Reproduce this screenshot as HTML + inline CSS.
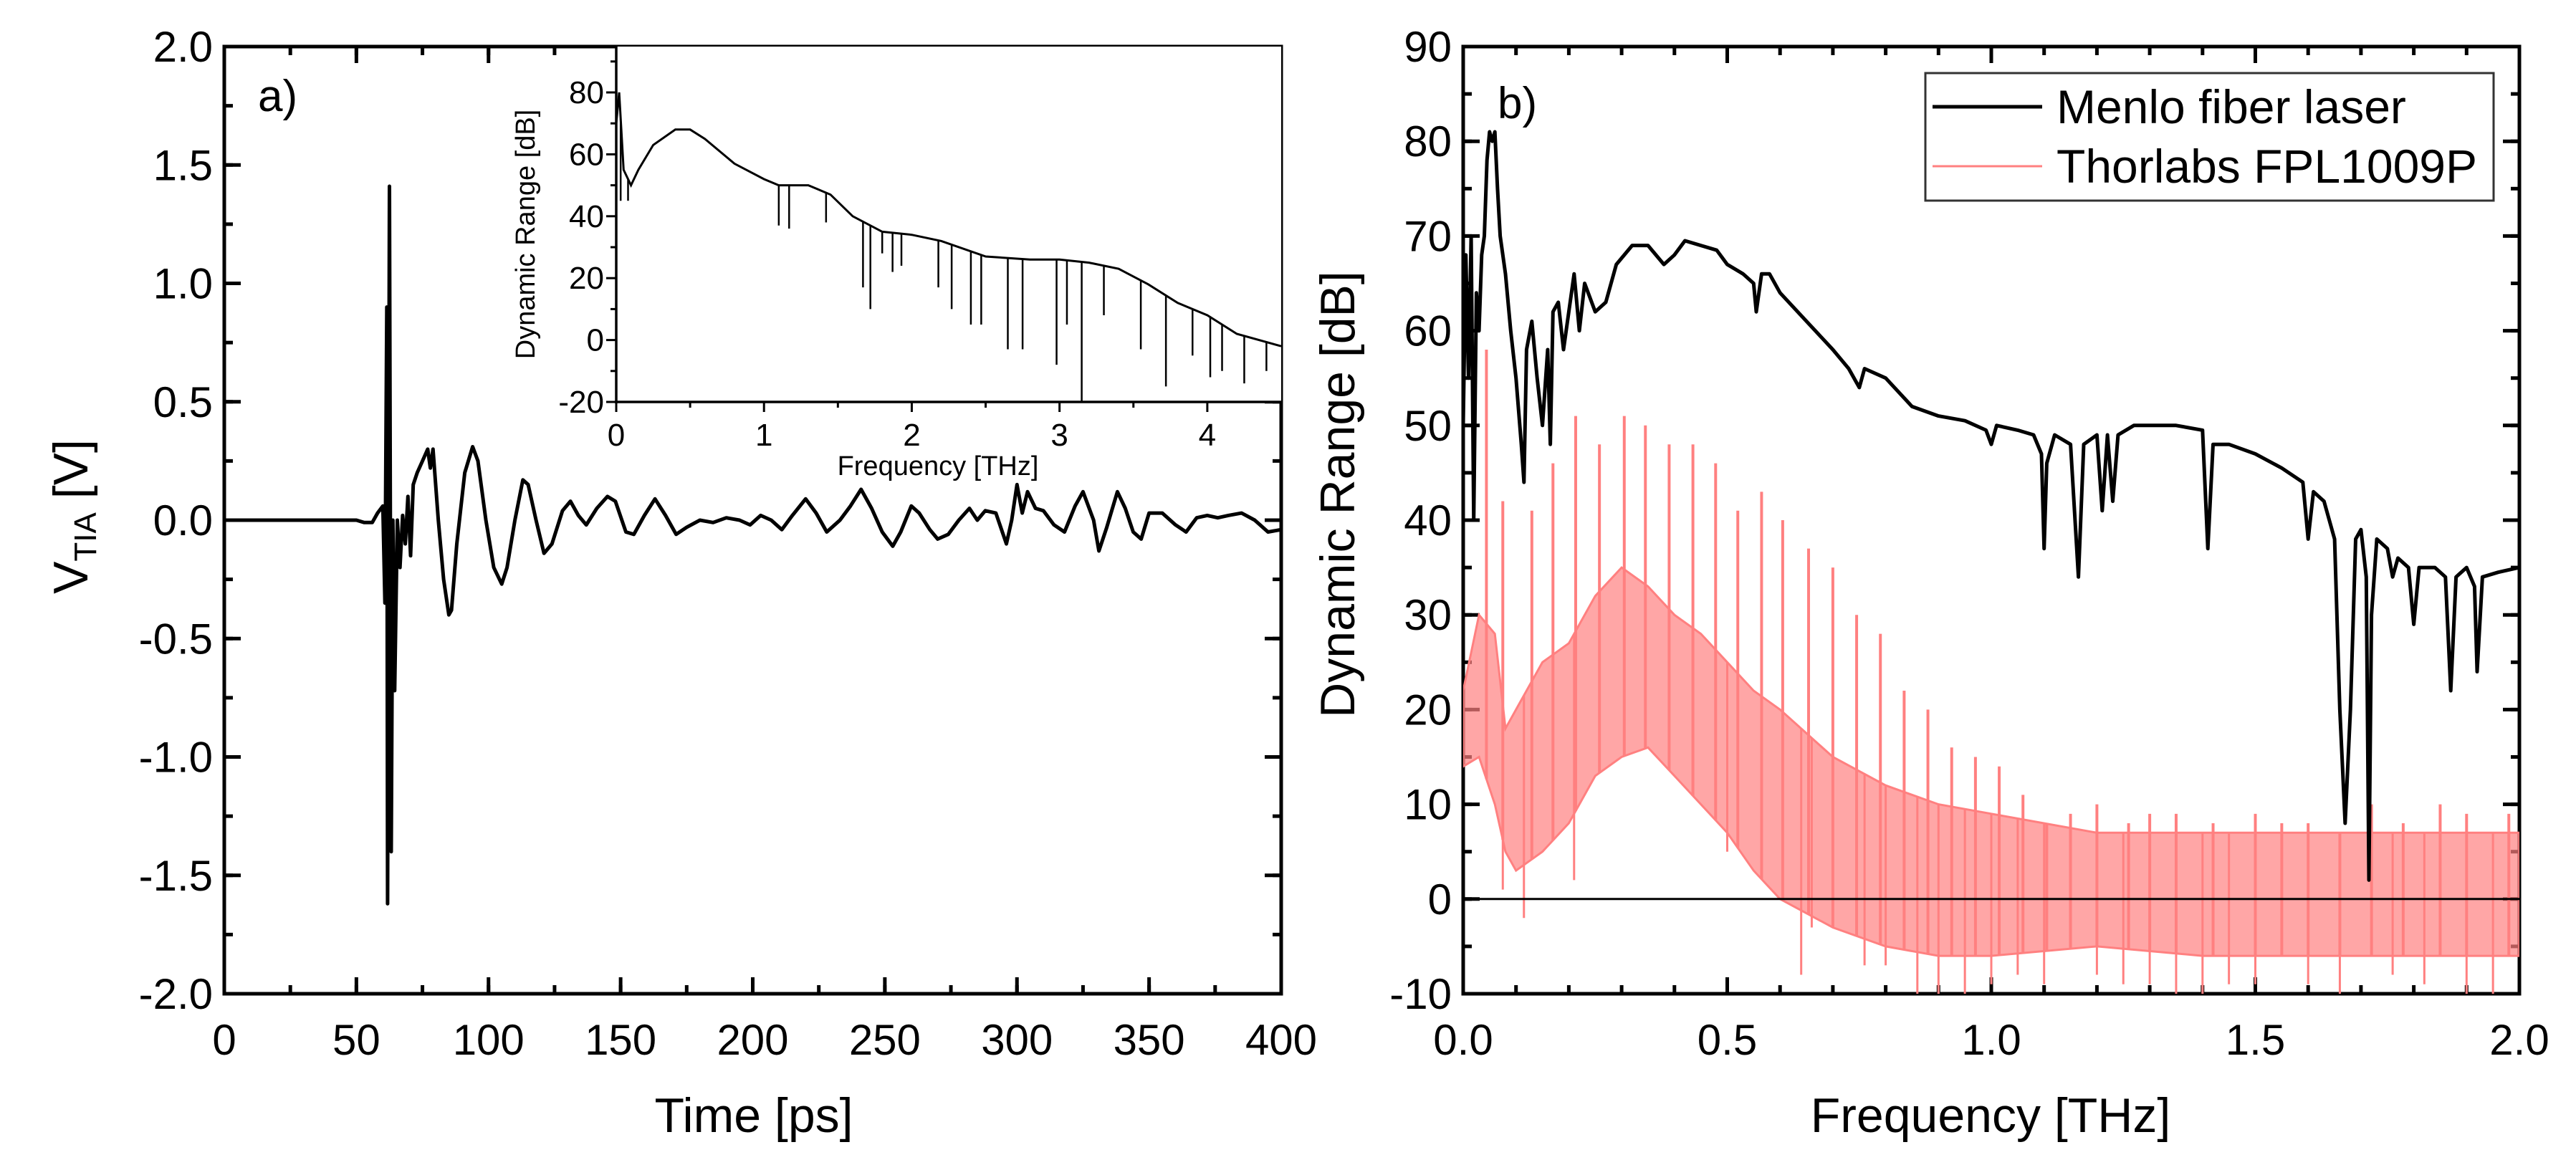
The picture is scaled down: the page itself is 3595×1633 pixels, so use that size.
<!DOCTYPE html>
<html><head><meta charset="utf-8"><style>
html,body{margin:0;padding:0;background:#fff;}
svg{display:block;font-family:"Liberation Sans",Arial,sans-serif;}
</style></head><body>
<svg id="fig" width="3595" height="1633" viewBox="0 0 3595 1633" xmlns="http://www.w3.org/2000/svg">
<defs>
<clipPath id="clipA"><rect x="313" y="65" width="1475" height="1322"/></clipPath>
<clipPath id="clipB"><rect x="2042" y="65" width="1474" height="1322"/></clipPath>
<clipPath id="clipI"><rect x="860" y="65" width="928" height="496"/></clipPath>
</defs>
<g id="gA"></g>
<g id="gB"></g>
</svg>
<script>
// ---------- Panel a data ----------
const timePs = [0,50,53,56,58,60,60.8,61.5,61.8,62.5,63.2,63.8,64.5,65.5,66.5,67.5,68.5,69.5,70.5,71.5,73,75,77,78,79,81,83,85,86,88,91,94,96,99,102,105,107,110,113,115,118,121,124,128,131,134,137,141,145,148,152,155,159,163,167,171,175,180,185,190,195,199,203,207,211,215,220,224,228,233,237,241,245,249,253,256,260,263,267,270,274,278,282,285,288,292,296,298,300,302,304,307,310,314,318,322,325,329,331,334,338,341,344,347,350,355,360,364,368,372,376,380,385,390,395,400];
const voltV = [0,0,-0.01,-0.01,0.03,0.06,-0.35,0.9,-1.62,1.41,-1.4,0.0,-0.72,0.0,-0.2,0.02,-0.1,0.1,-0.15,0.15,0.2,0.25,0.3,0.22,0.3,0.0,-0.25,-0.4,-0.38,-0.1,0.2,0.31,0.25,0.0,-0.2,-0.27,-0.2,0.0,0.17,0.15,0.0,-0.14,-0.1,0.04,0.08,0.02,-0.02,0.05,0.1,0.08,-0.05,-0.06,0.02,0.09,0.02,-0.06,-0.03,0.0,-0.01,0.01,0.0,-0.02,0.02,0.0,-0.04,0.02,0.09,0.03,-0.05,0.0,0.06,0.13,0.05,-0.05,-0.11,-0.05,0.06,0.03,-0.04,-0.08,-0.06,0.0,0.05,0.0,0.04,0.03,-0.1,0.0,0.15,0.03,0.12,0.05,0.04,-0.02,-0.05,0.06,0.12,0.0,-0.13,-0.03,0.12,0.05,-0.05,-0.08,0.03,0.03,-0.02,-0.05,0.01,0.02,0.01,0.02,0.03,0.0,-0.05,-0.04];
const aXTicks = [0,50,100,150,200,250,300,350,400];
const aYTicks = [2.0,1.5,1.0,0.5,0.0,-0.5,-1.0,-1.5,-2.0];
// inset
const insetEnvF = [0,0.02,0.05,0.1,0.15,0.25,0.4,0.5,0.6,0.8,1.0,1.1,1.3,1.45,1.6,1.8,2.0,2.2,2.5,2.8,3.0,3.2,3.4,3.6,3.8,4.0,4.2,4.5];
const insetEnvDb = [70,80,55,50,55,63,68,68,65,57,52,50,50,47,40,35,34,32,27,26,26,25,23,18,12,8,2,-2];
const insetDipF = [0.03,0.08,1.1,1.17,1.42,1.67,1.72,1.8,1.87,1.93,2.18,2.27,2.4,2.47,2.65,2.75,2.98,3.05,3.15,3.3,3.55,3.72,3.9,4.02,4.1,4.25,4.4];
const insetDipDb = [45,45,37,36,38,17,10,28,22,24,17,10,5,5,-3,-3,-8,5,-20,8,-3,-15,-5,-12,-10,-14,-10];
const iXTicks = [0,1,2,3,4];
const iYTicks = [80,60,40,20,0,-20];
// ---------- Panel b data ----------
const menloF = [0,0.005,0.01,0.015,0.02,0.025,0.03,0.035,0.04,0.045,0.05,0.055,0.06,0.065,0.07,0.08,0.09,0.1,0.11,0.115,0.12,0.13,0.14,0.15,0.16,0.165,0.17,0.18,0.19,0.2,0.21,0.22,0.23,0.25,0.27,0.29,0.32,0.35,0.38,0.4,0.42,0.45,0.48,0.5,0.53,0.55,0.555,0.565,0.58,0.6,0.65,0.7,0.73,0.75,0.76,0.8,0.85,0.9,0.95,0.99,1.0,1.01,1.05,1.08,1.095,1.1,1.105,1.12,1.15,1.165,1.175,1.2,1.21,1.22,1.23,1.24,1.27,1.35,1.4,1.41,1.42,1.45,1.5,1.55,1.59,1.6,1.61,1.63,1.65,1.66,1.67,1.68,1.69,1.7,1.71,1.715,1.72,1.73,1.75,1.76,1.77,1.79,1.8,1.81,1.84,1.86,1.87,1.88,1.9,1.915,1.92,1.93,1.96,2.0];
const menloDb = [50,68,55,70,40,64,60,68,70,78,81,80,81,75,70,66,60,55,48,44,58,61,55,50,58,48,62,63,58,62,66,60,65,62,63,67,69,69,67,68,69.5,69,68.5,67,66,65,62,66,66,64,61,58,56,54,56,55,52,51,50.5,49.5,48,50,49.5,49,47,37,46,49,48,34,48,49,41,49,42,49,50,50,49.5,37,48,48,47,45.5,44,38,43,42,38,20,8,20,38,39,34,2,30,38,37,34,36,35,29,35,35,34,22,34,35,33,24,34,34.5,35];
const thorBandF = [0,0.03,0.06,0.08,0.1,0.15,0.2,0.25,0.3,0.35,0.4,0.45,0.5,0.55,0.6,0.7,0.8,0.9,1.0,1.2,1.4,1.6,1.8,2.0];
const thorBandHi = [22,30,28,18,20,25,27,32,35,33,30,28,25,22,20,15,12,10,9,7,7,7,7,7];
const thorBandLo = [14,15,10,5,3,5,8,13,15,16,13,10,7,3,0,-3,-5,-6,-6,-5,-6,-6,-6,-6];
const thorPeakF = [0.044,0.075,0.13,0.17,0.213,0.258,0.305,0.345,0.39,0.435,0.478,0.52,0.565,0.605,0.654,0.7,0.745,0.79,0.835,0.88,0.925,0.97,1.015,1.06,1.105,1.15,1.2,1.26,1.3,1.35,1.42,1.5,1.55,1.6,1.66,1.72,1.78,1.85,1.9,1.98];
const thorPeakDb = [58,42,41,46,51,48,51,50,48,48,46,41,43,40,37,35,30,28,22,20,16,15,14,11,8,9,10,8,9,9,8,9,8,8,7,10,8,10,9,9];
const thorDipF = [0.075,0.115,0.21,0.5,0.64,0.66,0.76,0.8,0.86,0.9,0.95,1.0,1.05,1.1,1.2,1.25,1.3,1.35,1.4,1.45,1.5,1.6,1.66,1.76,1.82,1.9,1.95];
const thorDipDb = [1,-2,2,5,-8,-3,-7,-7,-10,-10,-10,-9,-8,-9,-8,-9,-9,-10,-10,-9,-9,-9,-10,-8,-9,-10,-10];
const bXTicks = [0.0,0.5,1.0,1.5,2.0];
const bYTicks = [90,80,70,60,50,40,30,20,10,0,-10];

const NS = "http://www.w3.org/2000/svg";
function mk(parent, tag, attrs, text) {
  const e = document.createElementNS(NS, tag);
  for (const k in attrs) e.setAttribute(k, attrs[k]);
  if (text !== undefined) e.textContent = text;
  parent.appendChild(e);
  return e;
}
function lin(d0, d1, r0, r1) { return v => r0 + (v - d0) * (r1 - r0) / (d1 - d0); }
function interp(xs, ys, x) {
  for (let i = 0; i < xs.length - 1; i++) if (x >= xs[i] && x <= xs[i+1]) return ys[i] + (ys[i+1]-ys[i])*(x-xs[i])/(xs[i+1]-xs[i]);
  return ys[ys.length-1];
}
function pathOf(xs, ys, sx, sy) { return xs.map((x,i)=>(i?'L':'M')+sx(x).toFixed(1)+','+sy(ys[i]).toFixed(1)).join(''); }

function frame(g, x0, x1, y0, y1, xt, yt, xMinorStep, yMinorStep, xFmt, yFmt, xv0, xv1, yv0, yv1, prefix) {
  const sx = lin(xv0, xv1, x0, x1), sy = lin(yv0, yv1, y1, y0);
  for (let v = xv0; v <= xv1 + 1e-9; v += xMinorStep) {
    const x = sx(v);
    mk(g,'line',{x1:x,y1:y1,x2:x,y2:y1-12,stroke:'#000','stroke-width':5});
    mk(g,'line',{x1:x,y1:y0,x2:x,y2:y0+12,stroke:'#000','stroke-width':5});
  }
  for (let v = yv0; v <= yv1 + 1e-9; v += yMinorStep) {
    const y = sy(v);
    mk(g,'line',{x1:x0,y1:y,x2:x0+12,y2:y,stroke:'#000','stroke-width':5});
    mk(g,'line',{x1:x1,y1:y,x2:x1-12,y2:y,stroke:'#000','stroke-width':5});
  }
  xt.forEach(v => {
    const x = sx(v);
    mk(g,'line',{x1:x,y1:y1,x2:x,y2:y1-23,stroke:'#000','stroke-width':5});
    mk(g,'line',{x1:x,y1:y0,x2:x,y2:y0+23,stroke:'#000','stroke-width':5});
    const t = mk(g,'text',{x:x,y:y1+85,'font-size':60,'text-anchor':'middle',fill:'#000'}, xFmt(v));
    
    
  });
  yt.forEach(v => {
    const y = sy(v);
    mk(g,'line',{x1:x0,y1:y,x2:x0+23,y2:y,stroke:'#000','stroke-width':5});
    mk(g,'line',{x1:x1,y1:y,x2:x1-23,y2:y,stroke:'#000','stroke-width':5});
    const t = mk(g,'text',{x:x0-16,y:y+21,'font-size':60,'text-anchor':'end',fill:'#000'}, yFmt(v));
    
    
  });
  const r = mk(g,'rect',{x:x0,y:y0,width:x1-x0,height:y1-y0,fill:'none',stroke:'#000','stroke-width':5});
  
  
  return {sx, sy};
}

// ---------- Panel A ----------
const gA = document.getElementById('gA');
const A = frame(gA, 313, 1788, 65, 1387, aXTicks, aYTicks, 25, 0.25, v=>String(v), v=>v.toFixed(1), 0, 400, -2, 2, 'a-');
const la = mk(gA,'path',{d:pathOf(timePs, voltV, A.sx, A.sy),fill:'none',stroke:'#000','stroke-width':5,'stroke-linejoin':'round','clip-path':'url(#clipA)'});


let t;
t = mk(gA,'text',{x:1052,y:1580,'font-size':68,'text-anchor':'middle'},'Time [ps]');
 
t = mk(gA,'text',{x:0,y:0,'font-size':68,'text-anchor':'middle',transform:'translate(122,721) rotate(-90)'});
 
mk(t,'tspan',{},'V');
mk(t,'tspan',{'font-size':44,dy:12},'TIA');
mk(t,'tspan',{dy:-12},' [V]');
t = mk(gA,'text',{x:360,y:155,'font-size':62},'a)');
 

// inset
const gI = mk(gA,'g',{});
 
const ix = lin(0, 4.5, 860, 1788), iy = lin(-20, 80, 561, 129);
mk(gI,'rect',{x:860,y:65,width:928,height:496,fill:'#fff'});
const ie = mk(gI,'path',{d:pathOf(insetEnvF, insetEnvDb, ix, iy),fill:'none',stroke:'#000','stroke-width':3,'clip-path':'url(#clipI)'});
 
insetDipF.forEach((f,i)=>{
  const d = mk(gI,'line',{x1:ix(f),x2:ix(f),y1:iy(interp(insetEnvF,insetEnvDb,f)),y2:iy(insetDipDb[i]),stroke:'#000','stroke-width':2.5,'clip-path':'url(#clipI)'});
   
});
mk(gI,'line',{x1:860,y1:65,x2:860,y2:563,stroke:'#000','stroke-width':3.5});
mk(gI,'line',{x1:858,y1:561,x2:1788,y2:561,stroke:'#000','stroke-width':3.5});
for (let v=-20; v<=90; v+=10) { const y=iy(v); mk(gI,'line',{x1:860,x2:v%20===0?846:852,y1:y,y2:y,stroke:'#000','stroke-width':3}); }
for (let v=0; v<=4.5; v+=0.5) { const x=ix(v); mk(gI,'line',{x1:x,x2:x,y1:561,y2:(Math.abs(v%1)<1e-9)?575:569,stroke:'#000','stroke-width':3}); }
iYTicks.forEach(v=>{ const e=mk(gI,'text',{x:843,y:iy(v)+15,'font-size':44,'text-anchor':'end'},String(v));   });
iXTicks.forEach(v=>{ const e=mk(gI,'text',{x:ix(v),y:622,'font-size':44,'text-anchor':'middle'},String(v));   });
t = mk(gI,'text',{x:1309,y:663,'font-size':38,'text-anchor':'middle'},'Frequency [THz]');
 
t = mk(gI,'text',{x:0,y:0,'font-size':38,'text-anchor':'middle',transform:'translate(746,327) rotate(-90)'},'Dynamic Range [dB]');
 

// ---------- Panel B ----------
const gB = document.getElementById('gB');
const B = frame(gB, 2042, 3516, 65, 1387, bXTicks, bYTicks, 0.1, 5, v=>v.toFixed(1), v=>String(v), 0, 2, -10, 90, 'b-');
const gT = mk(gB,'g',{'clip-path':'url(#clipB)'});
 
const bandD = pathOf(thorBandF, thorBandHi, B.sx, B.sy) + thorBandF.slice().reverse().map((f,i)=>'L'+B.sx(f).toFixed(1)+','+B.sy(thorBandLo[thorBandLo.length-1-i]).toFixed(1)).join('') + 'Z';
const band = mk(gT,'path',{d:bandD,fill:'#ff8080',stroke:'#ff8080','stroke-width':3,'fill-opacity':0.7});
 
thorPeakF.forEach((f,i)=>{
  const s = mk(gT,'line',{x1:B.sx(f),x2:B.sx(f),y1:B.sy(interp(thorBandF,thorBandLo,f)),y2:B.sy(thorPeakDb[i]),stroke:'#ff8080','stroke-width':4});
   
});
thorDipF.forEach((f,i)=>{
  const s = mk(gT,'line',{x1:B.sx(f),x2:B.sx(f),y1:B.sy(interp(thorBandF,thorBandHi,f)),y2:B.sy(thorDipDb[i]),stroke:'#ff8080','stroke-width':3});
   
});
const zl = mk(gB,'line',{x1:2042,x2:3516,y1:B.sy(0),y2:B.sy(0),stroke:'#000','stroke-width':3});
 
const lm = mk(gB,'path',{d:pathOf(menloF, menloDb, B.sx, B.sy),fill:'none',stroke:'#000','stroke-width':5,'stroke-linejoin':'round','clip-path':'url(#clipB)'});
 
t = mk(gB,'text',{x:2778,y:1580,'font-size':68,'text-anchor':'middle'},'Frequency [THz]');
 
t = mk(gB,'text',{x:0,y:0,'font-size':68,'text-anchor':'middle',transform:'translate(1890,690) rotate(-90)'},'Dynamic Range [dB]');
 
t = mk(gB,'text',{x:2090,y:165,'font-size':62},'b)');
 
// legend
const lg = mk(gB,'g',{});
 
mk(lg,'rect',{x:2687,y:102,width:793,height:178,fill:'#fff',stroke:'#333','stroke-width':3});
const le1 = mk(lg,'line',{x1:2697,x2:2850,y1:149,y2:149,stroke:'#000','stroke-width':5});
 
t = mk(lg,'text',{x:2870,y:172,'font-size':66},'Menlo fiber laser');
 
const le2 = mk(lg,'line',{x1:2697,x2:2850,y1:232,y2:232,stroke:'#ff8080','stroke-width':3});
 
t = mk(lg,'text',{x:2870,y:255,'font-size':66},'Thorlabs FPL1009P');
 
</script>
</body></html>
